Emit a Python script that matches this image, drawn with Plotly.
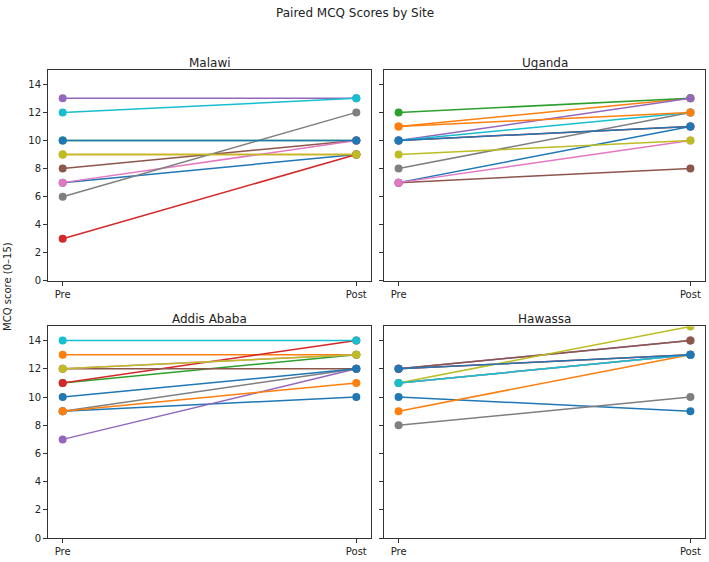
import plotly.graph_objects as go

TAB10 = ["#1f77b4", "#ff7f0e", "#2ca02c", "#d62728", "#9467bd",
         "#8c564b", "#e377c2", "#7f7f7f", "#bcbd22", "#17becf"]

phases = ["Pre", "Post"]
sites = ["Malawi", "Uganda", "Addis Ababa", "Hawassa"]

malawi_pre = [7, 9, 10, 3, 13, 8, 7, 6, 9, 12, 10]
malawi_post = [9, 9, 10, 9, 13, 10, 10, 12, 9, 13, 10]

uganda_pre = [7, 11, 12, 10, 10, 7, 7, 8, 9, 10, 10, 11]
uganda_post = [11, 13, 13, 11, 13, 8, 10, 12, 10, 12, 11, 12]

addis_pre = [9, 13, 11, 11, 7, 12, 12, 9, 12, 14, 10, 9]
addis_post = [10, 13, 13, 14, 12, 12, 13, 12, 13, 14, 12, 11]

hawassa_pre = [10, 9, 11, 12, 12, 12, 11, 8, 11, 11, 12]
hawassa_post = [9, 13, 13, 13, 14, 14, 13, 10, 15, 13, 13]

data = [(malawi_pre, malawi_post), (uganda_pre, uganda_post),
        (addis_pre, addis_post), (hawassa_pre, hawassa_post)]

W, H = 709, 562
def xd(a, b):
    return [a / W, b / W]
def yd(top, bot):
    return [1 - bot / H, 1 - top / H]

xdoms = [xd(48, 371), xd(384, 705)]
ydoms = [yd(71, 284), yd(330, 544)]

fig = go.Figure()
layout = {}
for i, (site, (pre, post)) in enumerate(zip(sites, data)):
    r, c = divmod(i, 2)
    n = i + 1
    xa = "x" if n == 1 else f"x{n}"
    ya = "y" if n == 1 else f"y{n}"
    for j, (a, b) in enumerate(zip(pre, post)):
        col = TAB10[j % 10]
        fig.add_trace(go.Scatter(
            x=[0, 1], y=[a, b], mode="lines+markers",
            line=dict(color=col, width=1.5),
            marker=dict(color=col, size=8),
            xaxis=xa, yaxis=ya, showlegend=False, hoverinfo="skip"))
    axstyle = dict(showline=True, linecolor="#333", linewidth=1, mirror=True,
                   ticks="outside", ticklen=4, tickcolor="#333",
                   showgrid=False, zeroline=False,
                   tickfont=dict(family="DejaVu Sans", size=10, color="#222"))
    layout["xaxis" if n == 1 else f"xaxis{n}"] = dict(
        domain=xdoms[c], range=[-0.05, 1.05], tickvals=[0, 1], ticktext=phases,
        anchor=ya, **axstyle)
    layout["yaxis" if n == 1 else f"yaxis{n}"] = dict(
        domain=ydoms[r], range=[0, 15], tickvals=list(range(0, 15, 2)),
        showticklabels=(c == 0), anchor=xa, **axstyle)
    fig.add_annotation(text=site, x=sum(xdoms[c]) / 2, y=ydoms[r][1],
                       xref="paper", yref="paper", xanchor="center",
                       yanchor="bottom", yshift=-2, showarrow=False,
                       font=dict(family="DejaVu Sans", size=12, color="#222"))

fig.add_annotation(text="Paired MCQ Scores by Site", x=0.5, y=1, xref="paper",
                   yref="paper", xanchor="center", yanchor="top", yshift=-4,
                   showarrow=False,
                   font=dict(family="DejaVu Sans", size=12, color="#222"))
fig.add_annotation(text="MCQ score (0–15)", x=8 / W, y=1 - 290 / H,
                   xref="paper", yref="paper", xanchor="center",
                   yanchor="middle", textangle=-90, showarrow=False,
                   font=dict(family="DejaVu Sans", size=10, color="#222"))

fig.update_layout(width=W, height=H, margin=dict(l=0, r=0, t=0, b=0),
                  paper_bgcolor="white", plot_bgcolor="white", **layout)
fig.write_html("out.html")
